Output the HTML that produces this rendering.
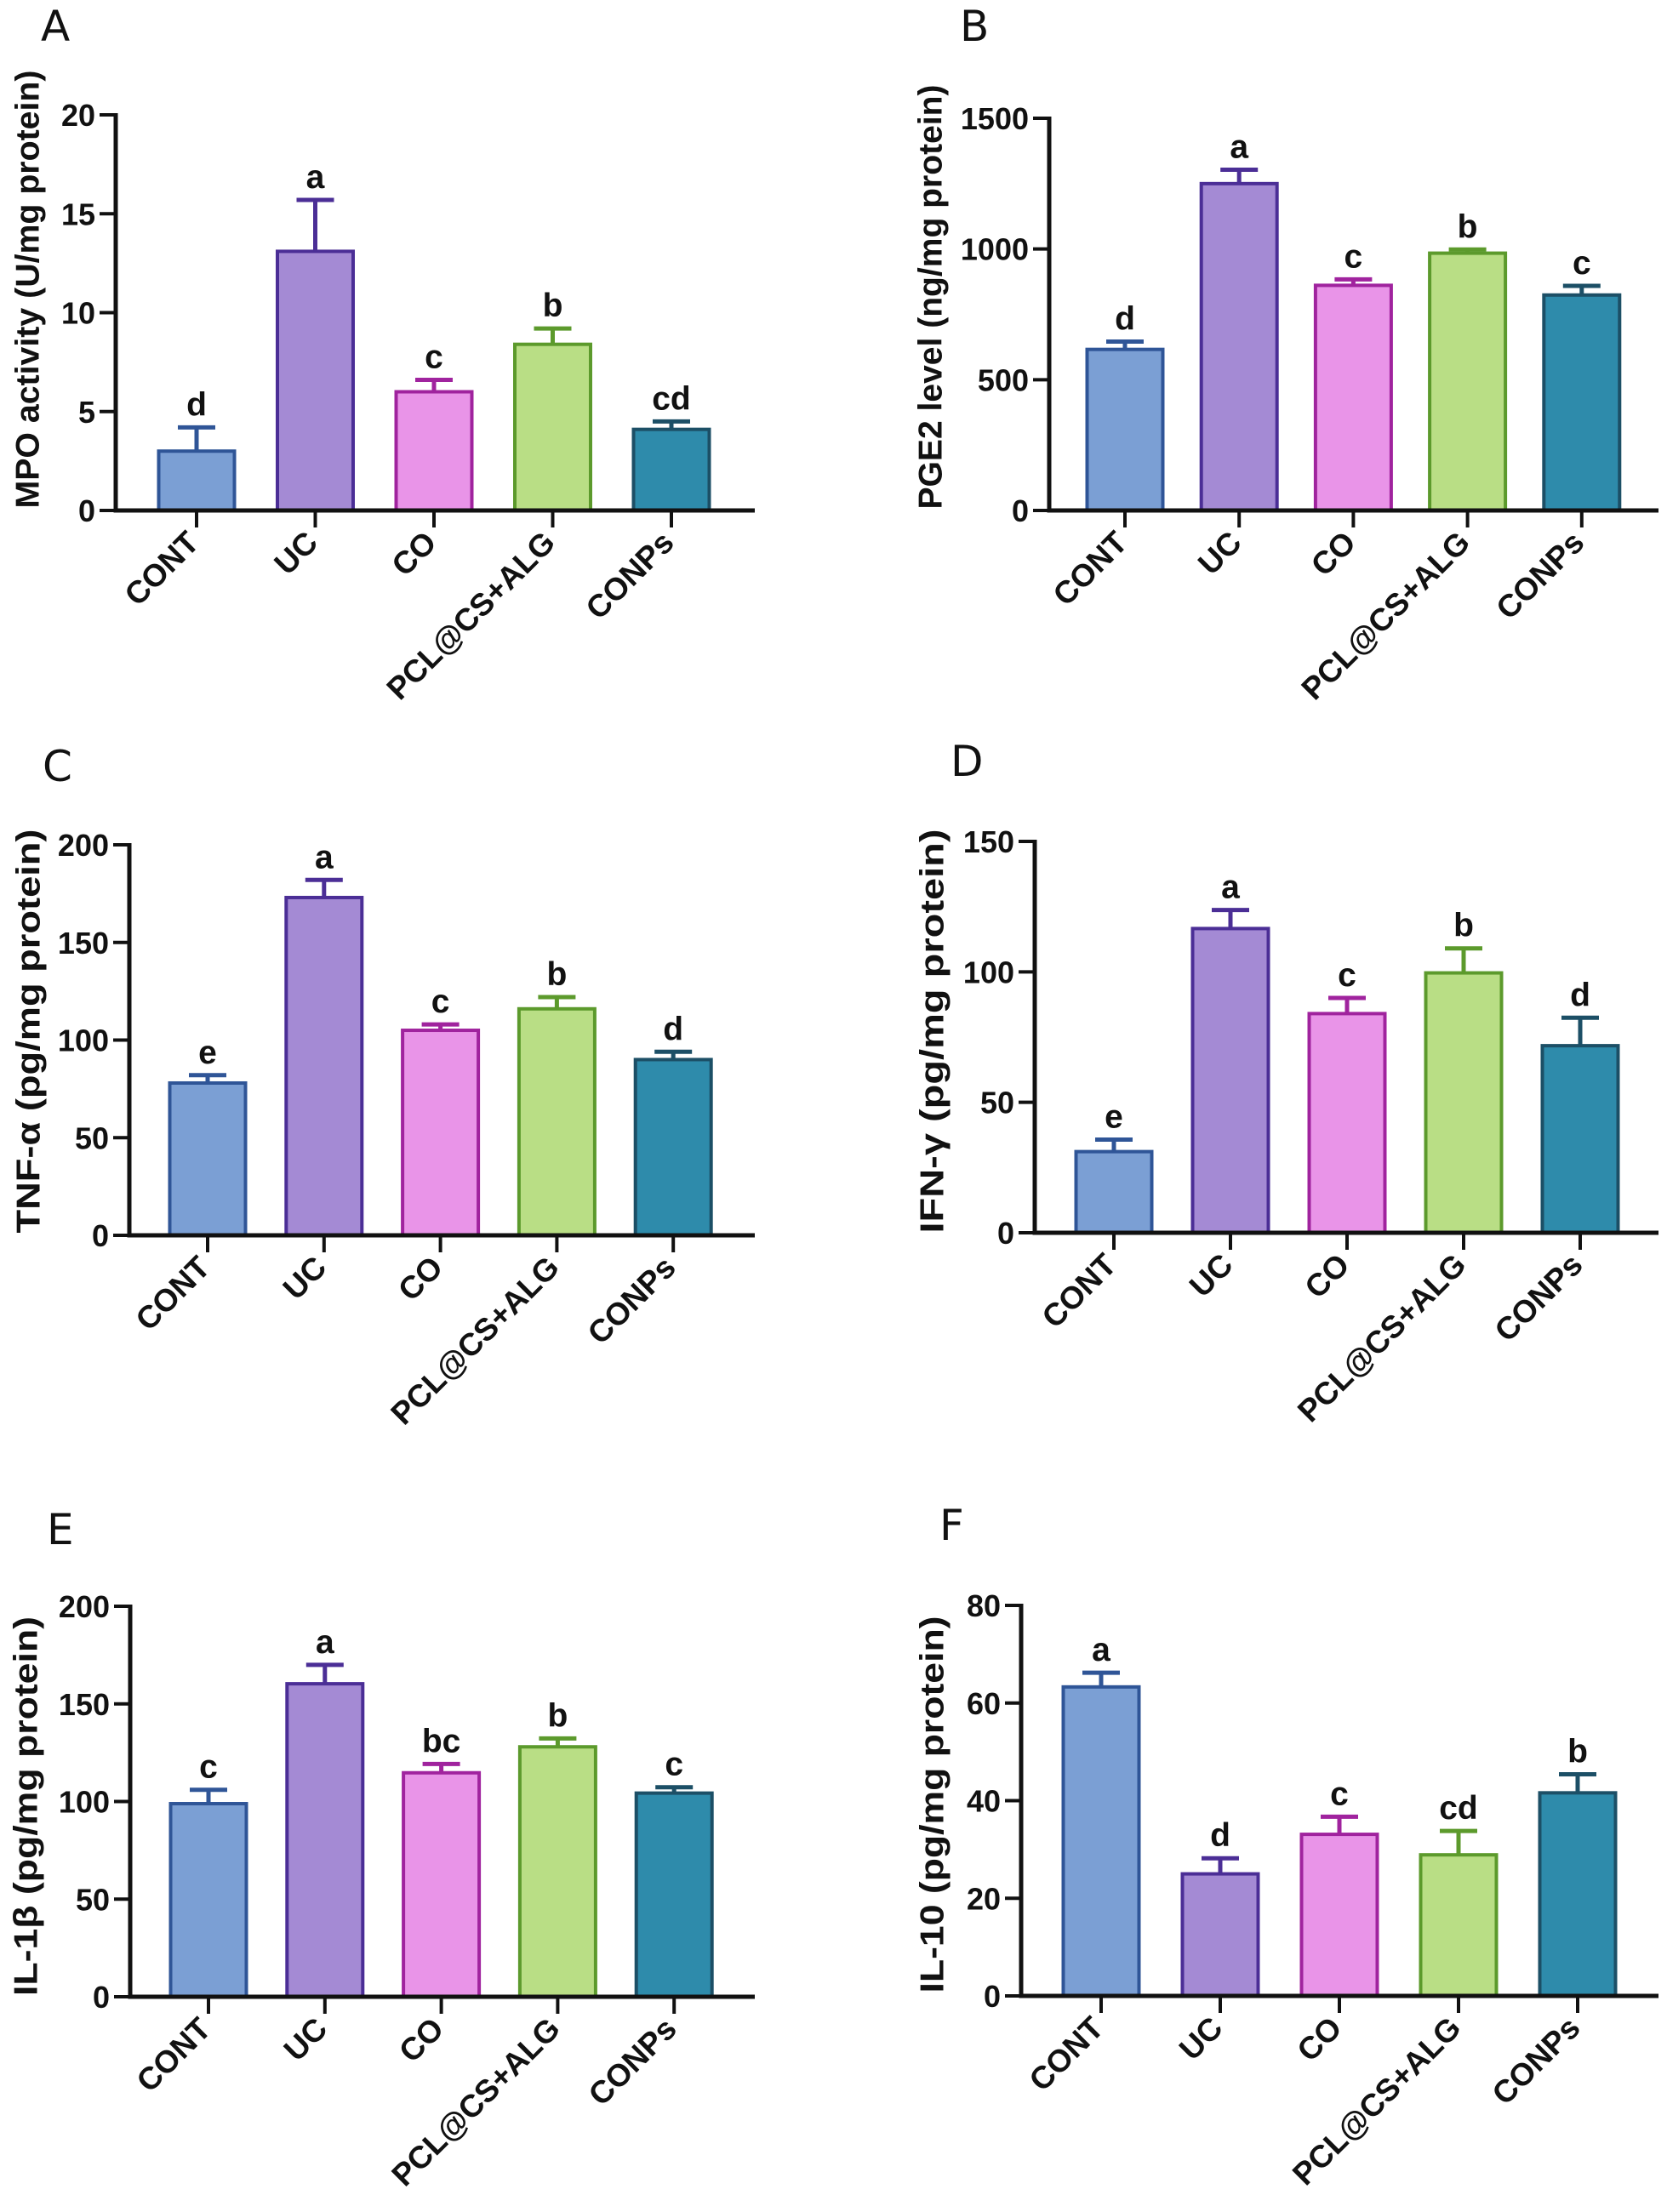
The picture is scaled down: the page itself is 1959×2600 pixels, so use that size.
<!DOCTYPE html>
<html><head><meta charset="utf-8"><style>
html,body{margin:0;padding:0;background:#fff;}
svg{display:block;font-family:"Liberation Sans",Arial,sans-serif;}
</style></head><body>
<svg id="fig" width="1959" height="2600" viewBox="0 0 1959 2600">
<rect x="0" y="0" width="1959" height="2600" fill="#fff"/>
</svg>
<script>
const categories = ["CONT","UC","CO","PCL@CS+ALG","CONPs"];
const mpoValues = [3.0,13.1,6.0,8.4,4.1];
const mpoErrors = [1.2,2.6,0.6,0.8,0.4];
const mpoLetters = ["d","a","c","b","cd"];
const mpoTicks = [0,5,10,15,20];
const pge2Values = [616,1250,861,984,824];
const pge2Errors = [30,53,23,14,35];
const pge2Letters = ["d","a","c","b","c"];
const pge2Ticks = [0,500,1000,1500];
const tnfValues = [78,173,105,116,90];
const tnfErrors = [4,9,3,6,4];
const tnfLetters = ["e","a","c","b","d"];
const tnfTicks = [0,50,100,150,200];
const ifnValues = [31.1,116.6,84,99.6,71.7];
const ifnErrors = [4.6,7.1,6,9.4,10.7];
const ifnLetters = ["e","a","c","b","d"];
const ifnTicks = [0,50,100,150];
const il1Values = [98.9,160.3,114.7,128,104.3];
const il1Errors = [7.1,9.7,4.5,4.3,3];
const il1Letters = ["c","a","bc","b","c"];
const il1Ticks = [0,50,100,150,200];
const il10Values = [63.3,25,33.1,28.9,41.6];
const il10Errors = [2.9,3.2,3.6,4.9,3.8];
const il10Letters = ["a","d","c","cd","b"];
const il10Ticks = [0,20,40,60,80];

const fills = ["#7b9fd4","#a48ad4","#e994e8","#b9de85","#2e8bab"];
const strokes = ["#2f5597","#4b2e96","#a0239e","#5c9a2c","#1c4f66"];

const panels = [
 {id:"a",letter:"A",lx:48,ly:48,ax:136,x0:231,dx:139.5,y0:600,yTop:135,xEnd:887,max:20,vals:mpoValues,errs:mpoErrors,lets:mpoLetters,ticks:mpoTicks,title:"MPO activity (U/mg protein)",tx:33,ty:340,tl:515},
 {id:"b",letter:"B",lx:1128,ly:48,ax:1233,x0:1322,dx:134.2,y0:600,yTop:139,xEnd:1949,max:1500,vals:pge2Values,errs:pge2Errors,lets:pge2Letters,ticks:pge2Ticks,title:"PGE2 level (ng/mg protein)",tx:1094,ty:349,tl:499},
 {id:"c",letter:"C",lx:50,ly:918,ax:152,x0:244,dx:136.8,y0:1452,yTop:993,xEnd:887,max:200,vals:tnfValues,errs:tnfErrors,lets:tnfLetters,ticks:tnfTicks,title:"TNF-α (pg/mg protein)",tx:34,ty:1212,tl:475},
 {id:"d",letter:"D",lx:1117,ly:912,ax:1216,x0:1309,dx:137,y0:1449,yTop:989,xEnd:1949,max:150,vals:ifnValues,errs:ifnErrors,lets:ifnLetters,ticks:ifnTicks,title:"IFN-γ (pg/mg protein)",tx:1096,ty:1212,tl:475},
 {id:"e",letter:"E",lx:55,ly:1815,ax:153,x0:245,dx:136.8,y0:2347,yTop:1888,xEnd:887,max:200,vals:il1Values,errs:il1Errors,lets:il1Letters,ticks:il1Ticks,title:"IL-1β (pg/mg protein)",tx:31,ty:2123,tl:446},
 {id:"f",letter:"F",lx:1104,ly:1810,ax:1200,x0:1294,dx:140,y0:2346,yTop:1887,xEnd:1949,max:80,vals:il10Values,errs:il10Errors,lets:il10Letters,ticks:il10Ticks,title:"IL-10 (pg/mg protein)",tx:1096,ty:2121,tl:443}
];
const NS="http://www.w3.org/2000/svg";
const svg=document.getElementById("fig");
function mk(tag,attrs,parent){const e=document.createElementNS(NS,tag);for(const k in attrs)e.setAttribute(k,attrs[k]);parent.appendChild(e);return e;}
panels.forEach(p=>{
 const g=mk("g",{},svg);
 
 
 const yS=v=>p.y0-(v/p.max)*(p.y0-p.yTop);
 const xS=i=>p.x0+i*p.dx;
 const L=mk("text",{x:p.lx,y:p.ly,"font-size":50,fill:"#111","font-family":"DejaVu Sans, sans-serif"},g);
 L.textContent=p.letter;
 
 
 p.vals.forEach((v,i)=>{
  const cx=xS(i),w=89,top=yS(v),et=yS(v+p.errs[i]);
  const eb=mk("path",{d:`M${cx} ${top} V${et} M${cx-22} ${et} H${cx+22}`,stroke:strokes[i],"stroke-width":5,fill:"none"},g);
  
  
  const r=mk("rect",{x:cx-w/2,y:top,width:w,height:p.y0-top,fill:fills[i],stroke:strokes[i],"stroke-width":4},g);
  
  
  const t=mk("text",{x:cx,y:et-14,"font-size":39,"font-weight":"bold","text-anchor":"middle",fill:"#111"},g);
  t.textContent=p.lets[i];
  
  
  const tk=mk("line",{x1:cx,y1:p.y0,x2:cx,y2:p.y0+20,stroke:"#111","stroke-width":4},g);
  
  
  const lx=cx+5,ly=p.y0+40;
  const xl=mk("text",{x:lx,y:ly,"font-size":37,"font-weight":"bold","text-anchor":"end",fill:"#111",transform:`rotate(-45 ${lx} ${ly})`},g);
  xl.textContent=categories[i];
  
  
 });
 const ya=mk("line",{x1:p.ax,y1:p.yTop-2,x2:p.ax,y2:p.y0+2.5,stroke:"#111","stroke-width":5},g);
 
 
 const xa=mk("line",{x1:p.ax-2.5,y1:p.y0,x2:p.xEnd,y2:p.y0,stroke:"#111","stroke-width":5},g);
 
 
 p.ticks.forEach(tv=>{
  const y=yS(tv);
  const tl=mk("line",{x1:p.ax-19,y1:y,x2:p.ax,y2:y,stroke:"#111","stroke-width":4},g);
  
  
  const tt=mk("text",{x:p.ax-24,y:y+13,"font-size":36,"font-weight":"bold","text-anchor":"end",fill:"#111"},g);
  tt.textContent=tv;
  
  
 });
 const ti=mk("text",{x:p.tx,y:p.ty,"font-size":39,"font-weight":"bold","text-anchor":"middle","dominant-baseline":"central",fill:"#111",textLength:p.tl,lengthAdjust:"spacingAndGlyphs",transform:`rotate(-90 ${p.tx} ${p.ty})`},g);
 ti.textContent=p.title;
 
 
});
</script>
</body></html>
